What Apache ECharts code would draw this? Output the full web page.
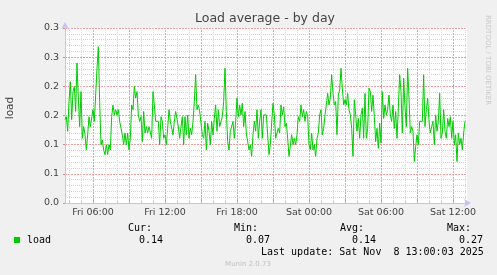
<!DOCTYPE html>
<html><head><meta charset="utf-8">
<script src="https://cdn.jsdelivr.net/npm/echarts@6/dist/echarts.min.js"></script>
<style>html,body{margin:0;padding:0;background:#f0f0f0}#c{width:497px;height:275px}</style>
</head><body><div id="c"></div>
<script>
// Time in hours since Fri 00:00; one sample every 1/9 hour starting Fri 03:40
var startHour = 3 + 40 / 60;
var stepHour = 1 / 9;
var loadValues = [
0.143,0.148,0.123,0.174,0.208,0.143,0.191,0.2,0.157,0.24,
0.18,0.131,0.191,0.111,0.131,0.117,0.091,0.117,0.148,0.131,
0.131,0.16,0.14,0.185,0.231,0.268,0.174,0.1,0.108,0.091,
0.083,0.1,0.083,0.1,0.091,0.148,0.168,0.151,0.16,0.151,
0.16,0.14,0.14,0.117,0.1,0.12,0.1,0.12,0.091,0.111,
0.168,0.16,0.2,0.18,0.191,0.151,0.14,0.148,0.105,0.157,
0.12,0.131,0.12,0.131,0.131,0.111,0.191,0.168,0.14,0.14,
0.14,0.1,0.148,0.14,0.111,
0.117,0.1,0.128,0.16,0.14,0.137,0.117,0.14,0.157,0.16,
0.131,0.111,0.131,0.148,0.1,0.148,0.117,0.151,0.111,0.128,
0.117,0.14,0.174,0.22,0.16,0.168,0.157,0.137,0.117,0.111,
0.14,0.091,0.137,0.123,0.1,0.14,0.117,0.145,0.168,0.123,
0.16,0.131,0.131,0.148,0.174,0.231,0.157,0.105,0.091,0.123,
0.123,0.14,0.111,0.14,0.18,0.148,0.168,0.151,0.171,0.131,
0.157,0.12,0.105,0.091,0.1,0.08,0.117,0.14,0.123,0.16,
0.111,0.14,0.16,0.111,0.151,0.151,
0.151,0.117,0.083,0.1,0.137,0.171,0.151,0.111,0.12,0.128,
0.12,0.168,0.151,0.165,0.131,0.137,0.111,0.08,0.08,0.117,
0.1,0.111,0.1,0.117,0.148,0.14,0.168,0.148,0.16,0.14,
0.157,0.148,0.1,0.091,0.12,0.091,0.1,0.08,0.111,0.12,
0.151,0.16,0.117,0.128,0.151,0.168,0.188,0.168,0.18,0.22,
0.188,0.168,0.174,0.117,0.185,0.194,0.231,0.197,0.168,0.177,
0.168,0.188,0.16,0.151,0.128,0.08,0.177,0.151,0.123,0.145,
0.111,0.151,0.163,0.111,0.188,0.111,0.128,0.197,
0.191,0.157,0.185,0.148,0.105,0.128,0.094,0.137,0.103,0.191,
0.145,0.168,0.151,0.16,0.185,0.151,0.14,0.168,0.128,0.157,
0.111,0.163,0.22,0.191,0.12,0.214,0.163,0.131,0.231,0.18,
0.12,0.131,0.123,0.071,0.097,0.117,0.1,0.14,0.14,0.14,
0.22,0.131,0.16,0.18,0.14,0.12,0.131,0.14,0.1,0.151,
0.123,0.14,0.188,0.111,0.12,0.16,0.123,0.111,0.145,0.131,
0.148,0.111,0.14,0.1,0.117,0.071,0.12,0.1,0.111,0.091,
0.12,0.14
];
var xMin = startHour, xMax = 37 + 10 / 60;
var minorHourTicks = [4,5,7,8,10,11,13,14,16,17,19,20,22,23,25,26,28,29,31,32,34,35,37];
var majorHourTicks = [6,9,12,15,18,21,24,27,30,33,36];
var labelHours = [6,12,18,24,30,36];
var xLabels = ['Fri 06:00','Fri 12:00','Fri 18:00','Sat 00:00','Sat 06:00','Sat 12:00'];
var minorYTicks = [0.01,0.02,0.03,0.04,0.06,0.07,0.08,0.09,0.11,0.12,0.13,0.14,0.16,0.17,0.18,0.19,0.21,0.22,0.23,0.24,0.26,0.27,0.28,0.29];
var majorYTicks = [0,0.05,0.1,0.15,0.2,0.25,0.3];
var yLabels = ['0.0','0.1','0.1','0.2','0.2','0.3','0.3'];
var statHeads = ['Cur:','Min:','Avg:','Max:'];
var statValues = ['0.14','0.07','0.14','0.27'];
var seriesName = 'load';
var lastUpdate = 'Last update: Sat Nov  8 13:00:03 2025';

var data = loadValues.map(function (v, i) { return [startHour + i * stepHour, v]; });

var gridColor = '#d4d4d4';
var majorColor = '#eba0a0';
var axisColor = '#c4c4f4';
var mono = '"DejaVu Sans Mono", monospace';
var sans = '"DejaVu Sans", sans-serif';

var chart = echarts.init(document.getElementById('c'), null, {renderer: 'canvas'});
var statX = [128, 234, 340, 447];
var valX = [139, 246, 352, 459];
var graphics = [
  {type: 'rect', shape: {x: 14, y: 237, width: 6, height: 6}, style: {fill: '#00cc00'}},
  {type: 'text', x: 27, y: 240, style: {text: seriesName, font: '10px ' + mono, fill: '#000', verticalAlign: 'middle'}},
  {type: 'text', x: 261, y: 252, style: {text: lastUpdate, font: '10px ' + mono, fill: '#000', verticalAlign: 'middle'}},
  {type: 'text', x: 248, y: 264, style: {text: 'Munin 2.0.73', font: '7px ' + sans, fill: '#c0c0c0', align: 'center', verticalAlign: 'middle'}},
  {type: 'text', x: 265, y: 19, style: {text: 'Load average - by day', font: '12.5px ' + sans, fill: '#444', align: 'center', verticalAlign: 'middle'}},
  {type: 'text', x: 10, y: 108, rotation: Math.PI / 2, style: {text: 'load', font: '10.5px ' + sans, fill: '#444', align: 'center', verticalAlign: 'middle'}},
  {type: 'text', x: 488, y: 15, rotation: -Math.PI / 2, style: {text: 'RRDTOOL / TOBI OETIKER', font: '7px ' + sans, fill: '#c8c8c8', align: 'left', verticalAlign: 'middle'}}
];
statHeads.forEach(function (h, i) {
  graphics.push({type: 'text', x: statX[i], y: 228, style: {text: h, font: '10px ' + mono, fill: '#000', verticalAlign: 'middle'}});
  graphics.push({type: 'text', x: valX[i], y: 240, style: {text: statValues[i], font: '10px ' + mono, fill: '#000', verticalAlign: 'middle'}});
});

chart.setOption({
  animation: false,
  backgroundColor: '#f0f0f0',
  grid: {left: 65, right: 30, top: 28, bottom: 72, show: true, backgroundColor: '#ffffff', borderWidth: 0},
  xAxis: [
    {type: 'value', position: 'bottom', min: xMin, max: xMax,
     axisLine: {show: true, lineStyle: {color: axisColor, width: 1}, symbol: ['none', 'arrow'], symbolSize: [6, 7], symbolOffset: [0, 4]},
     axisTick: {show: true, inside: true, length: 2, customValues: minorHourTicks, lineStyle: {color: '#c8c8c8'}},
     splitLine: {show: true, lineStyle: {color: [gridColor], type: [1, 1], width: 1}},
     axisLabel: {show: false}
    },
    {type: 'value', position: 'bottom', min: xMin, max: xMax,
     axisLine: {show: false},
     axisTick: {show: true, inside: true, length: 3, customValues: majorHourTicks, lineStyle: {color: '#e08080'}},
     splitLine: {show: false},
     axisLabel: {show: true, customValues: labelHours, margin: 5, color: '#444', fontFamily: sans, fontSize: 9.5,
       formatter: function (v) { var k = labelHours.indexOf(Math.round(v)); return k >= 0 ? xLabels[k] : ''; }}
    }
  ],
  yAxis: [
    {type: 'value', min: 0, max: 0.3,
     axisLine: {show: false},
     axisTick: {show: false, customValues: minorYTicks},
     splitLine: {show: true, lineStyle: {color: [gridColor], type: [1, 1], width: 1}},
     axisLabel: {show: false}
    },
    {type: 'value', min: 0, max: 0.3, position: 'left',
     axisLine: {show: true, onZero: false, lineStyle: {color: axisColor, width: 1}, symbol: ['none', 'arrow'], symbolSize: [6, 7], symbolOffset: [0, 6]},
     axisTick: {show: true, inside: false, length: 2, customValues: majorYTicks, lineStyle: {color: '#e08080'}},
     splitLine: {show: true, lineStyle: {color: [majorColor], type: [2, 1], width: 1}},
     axisLabel: {show: true, customValues: majorYTicks, margin: 6, color: '#444', fontFamily: sans, fontSize: 9.5,
       formatter: function (v) { return yLabels[Math.round(v / 0.05)]; }}
    }
  ],
  series: [
    {name: 'majorGrid', type: 'line', xAxisIndex: 0, yAxisIndex: 1, data: [], z: 1, silent: true,
     markLine: {silent: true, symbol: ['none', 'none'], label: {show: false}, animation: false,
       lineStyle: {color: majorColor, type: [2, 1], width: 1},
       data: majorHourTicks.map(function (h) { return {xAxis: h}; })}
    },
    {name: seriesName, type: 'line', xAxisIndex: 0, yAxisIndex: 1, data: data,
     showSymbol: false, symbol: 'none', lineStyle: {color: '#00cc00', width: 1}, z: 5}
  ],
  graphic: graphics
});
</script></body></html>
